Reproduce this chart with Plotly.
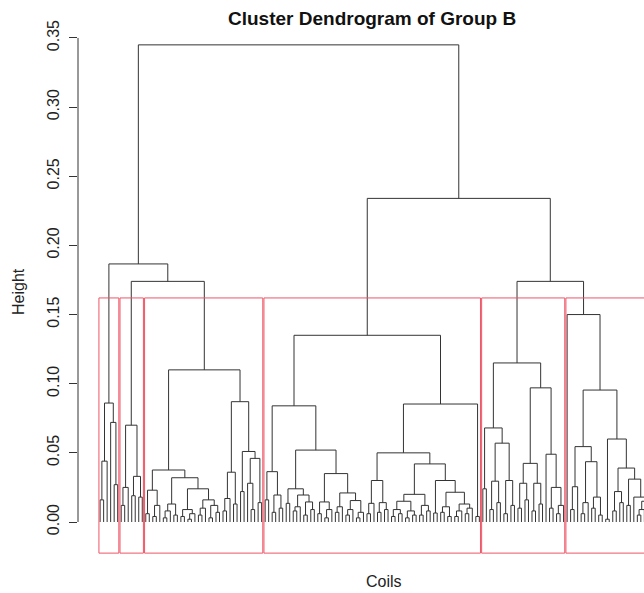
import plotly.graph_objects as go

# ---------------- data: dendrogram merge structure ----------------
# notation: (left,right)h  -> merge at height h (in units of 0.001); o = one coil (leaf)
cluster1 = "(((o,o)16,o)44,(o,(o,o)27)72)86"
cluster2 = "(((o,o)12,o)25,((o,o)19,(o,o)18)33)70"

c3_A = "((o,o)6,((o,o)4,o)12)23"
c3_B = "(((o,o)3,o)8,(o,o)5)13"
c3_C = "((o,o)4,((o,o)2,o)6)9"
c3_D = "(((o,o)5,o)10,((o,o)3,(o,o)7)12)16"
c3_E = "(((o,o)8,o)17,(o,o)13)36"
c3_F = "((o,o)22,((o,(o,o)9)28,(o,o)14)46)51"
cluster3 = f"(({c3_A},({c3_B},({c3_C},{c3_D})24)32)37.6,({c3_E},{c3_F})87)110"

c4_G = "((o,o)16,((o,o)7,(o,o)10)19.5)36.4"
c4_H = "((o,o)13.5,(((o,o)8,o)11,((o,o)5,(o,o)9)14.5)19.5)24"
c4_I = "(((o,o)6,((o,o)3,o)9)14.5,(((o,o)7,o)11,(((o,o)5,o)9,((o,o)3,o)7)15.5)21)35"
c4_J = "(((o,o)6,o)13.5,((o,o)7,(o,o)9)14)30"
c4_K = ("((((o,o)4,(o,o)6)9,((o,o)3,(o,o)5)8)15,((o,o)5,(o,o)8)12)20,"
        "((o,o)6.5,(((o,o)7,(o,o)4)11,(((o,o)4,o)8,((o,o)6,o)10)13)21.5)30)42")
cluster4 = f"(({c4_G},({c4_H},{c4_I})52)84,(({c4_J},({c4_K})50,(o,o)4)85.3)135"

c5_M = "(o,o)24"
c5_N = "(((o,o)9,(o,o)14)29.5,((o,o)6,(o,o)12)30)57"
c5_O = "(((o,o)10,(o,o)16)28,((o,o)8,(o,o)13)28)42.4"
c5_P = "(o,((o,o)10,((o,o)6,o)12)25)49"
cluster5 = f"(({c5_M},{c5_N})68,({c5_O},{c5_P})97)115"

c6_Q = "(((o,o)9,o)25.5,(((o,o)6,o)14,((o,o)10,(o,o)5)18)43.6)54.5"
c6_S = "((o,o)2,(((o,o)8,(o,o)14)22,((o,o)12,(o,(((o,o)5,o)9,((o,o)7,(o,(o,o)3)6)11)15)18)31)39)60"
cluster6 = f"(o,({c6_Q},{c6_S})95.4)150"

upper_left = f"({cluster1},({cluster2},{cluster3})174)186.6"
upper_right = f"({cluster4},({cluster5},{cluster6})174)234"
tree_str = f"({upper_left},{upper_right})345"

clusters = [cluster1, cluster2, cluster3, cluster4, cluster5, cluster6]
k_clusters = 6

y_ticks = [0.00, 0.05, 0.10, 0.15, 0.20, 0.25, 0.30, 0.35]
title_text = "Cluster Dendrogram of Group B"
x_title = "Coils"
y_title = "Height"


# ---------------- build the dendrogram geometry ----------------
def parse(s):
    s = s.replace(" ", "")
    pos = 0

    def node():
        nonlocal pos
        if s[pos] == "o":
            pos += 1
            return None
        pos += 1  # (
        left = node()
        pos += 1  # ,
        right = node()
        pos += 1  # )
        start = pos
        while pos < len(s) and (s[pos].isdigit() or s[pos] == "."):
            pos += 1
        return (float(s[start:pos]) / 1000.0, left, right)

    return node()


tree = parse(tree_str)
heights = []
seg_x, seg_y = [], []
counter = [0]


def layout(n):
    if n is None:
        counter[0] += 1
        return counter[0], 0.0
    h, l, r = n
    heights.append(h)
    xl, hl = layout(l)
    xr, hr = layout(r)
    seg_x.extend([xl, xl, xr, xr, None])
    seg_y.extend([hl, h, h, hr, None])
    return (xl + xr) / 2.0, h


layout(tree)
N = counter[0]

sizes = [s.count("o") for s in clusters]
hs = sorted(heights, reverse=True)
cut = (hs[k_clusters - 2] + hs[k_clusters - 1]) / 2.0

y_lo, y_hi = -0.02314, 0.35575
rect_bottom = -0.0225

fig = go.Figure()
fig.add_trace(go.Scatter(x=seg_x, y=seg_y, mode="lines",
                         line=dict(color="#333333", width=1),
                         hoverinfo="skip", showlegend=False))

start = 0
for sz in sizes:
    a, b = start + 1, start + sz
    fig.add_trace(go.Scatter(
        x=[a - 0.34, b + 0.33, b + 0.33, a - 0.34, a - 0.34],
        y=[rect_bottom, rect_bottom, cut, cut, rect_bottom],
        mode="lines", line=dict(color="#ee5566", width=1),
        hoverinfo="skip", showlegend=False))
    start += sz

W, H = 644, 593
ml, mr, mt, mb = 78, 0, 30, 39
pw, ph = W - ml - mr, H - mt - mb


def px(x):
    return (x - ml) / pw


def py(y):
    return (H - mb - y) / ph


font_family = "Liberation Sans, Arial, sans-serif"

fig.update_layout(
    width=W, height=H,
    margin=dict(l=ml, r=mr, t=mt, b=mb, pad=0),
    paper_bgcolor="white", plot_bgcolor="white",
    font=dict(family=font_family, color="#222222", size=16),
    xaxis=dict(visible=False, range=[-5.3, 155.9]),
    yaxis=dict(range=[y_lo, y_hi], tickvals=y_ticks,
               ticktext=[f"{v:.2f}" for v in y_ticks],
               tickangle=-90, ticks="outside", ticklen=8,
               tickcolor="#333333", showgrid=False, zeroline=False,
               showline=False, tickfont=dict(size=16, family=font_family),
               ticklabelstandoff=4),
    shapes=[dict(type="line", xref="paper", x0=0, x1=0, yref="y",
                 y0=y_ticks[0], y1=y_ticks[-1],
                 line=dict(color="#333333", width=1))],
    annotations=[
        dict(text=f"<b>{title_text}</b>", xref="paper", yref="paper",
             x=px(372), y=py(18), showarrow=False,
             font=dict(size=19, family=font_family, color="#111111"),
             xanchor="center", yanchor="middle"),
        dict(text=x_title, xref="paper", yref="paper",
             x=px(384), y=py(581), showarrow=False,
             font=dict(size=16, family=font_family),
             xanchor="center", yanchor="middle"),
        dict(text=y_title, xref="paper", yref="paper",
             x=px(18), y=py(292), showarrow=False, textangle=-90,
             font=dict(size=16, family=font_family),
             xanchor="center", yanchor="middle"),
    ],
)

fig.write_html("out.html")
